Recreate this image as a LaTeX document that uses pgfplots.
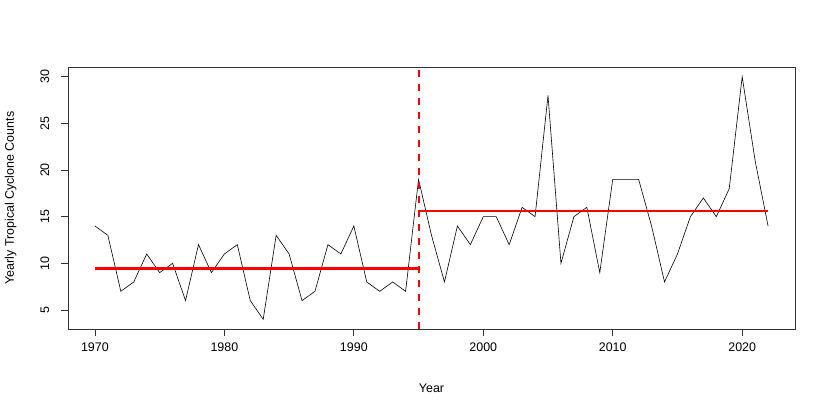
\documentclass[border=0pt]{standalone}
\usepackage{fontspec}
\setmainfont{Liberation Sans}
\usepackage{pgfplots}
\pgfplotsset{compat=1.18}

\begin{document}
\begin{tikzpicture}
\useasboundingbox (-68bp,-86bp) rectangle (762bp,329bp);
\begin{axis}[
  at={(0,0)}, anchor=south west,
  scale only axis, width=727bp, height=262bp,
  xmin=1967.92, xmax=2024.08, ymin=2.96, ymax=31.04,
  axis line style={black!80, line width=0.8bp},
  xtick={1970,1980,...,2020}, ytick={5,10,...,30},
  tick align=outside, major tick length=7bp,
  tick style={black!80, line width=0.8bp},
  xtick pos=bottom, ytick pos=left,
  font=\fontsize{12.5}{14}\selectfont,
  /pgf/number format/assume math mode=true,
  /pgf/number format/1000 sep={},
  yticklabel style={rotate=90, anchor=base, yshift=12bp},
  xticklabel style={yshift=-3bp},
  xlabel={Year}, ylabel={Yearly Tropical Cyclone Counts},
  xlabel style={at={([yshift=-63bp]axis description cs:0.5,0)}, anchor=base},
  ylabel style={at={([xshift=-54bp]axis description cs:0,0.5)}, anchor=base},
  clip=true,
]
\addplot[black, line width=0.6bp, mark=none] coordinates {
(1970,14) (1971,13) (1972,7) (1973,8) (1974,11) (1975,9) (1976,10) (1977,6)
(1978,12) (1979,9) (1980,11) (1981,12) (1982,6) (1983,4) (1984,13) (1985,11)
(1986,6) (1987,7) (1988,12) (1989,11) (1990,14) (1991,8) (1992,7) (1993,8)
(1994,7) (1995,19) (1996,13) (1997,8) (1998,14) (1999,12) (2000,15) (2001,15)
(2002,12) (2003,16) (2004,15) (2005,28) (2006,10) (2007,15) (2008,16) (2009,9)
(2010,19) (2011,19) (2012,19) (2013,14) (2014,8) (2015,11) (2016,15) (2017,17)
(2018,15) (2019,18) (2020,30) (2021,21) (2022,14)};
\addplot[red, line width=2.8bp, mark=none] coordinates {(1970,9.44) (1995,9.44)};
\addplot[red, line width=2.8bp, mark=none] coordinates {(1995,15.61) (2022,15.61)};
\addplot[red, line width=2bp, dash pattern=on 7bp off 7bp, mark=none] coordinates {(1995,2.96) (1995,31.04)};
\end{axis}
\end{tikzpicture}
\end{document}
